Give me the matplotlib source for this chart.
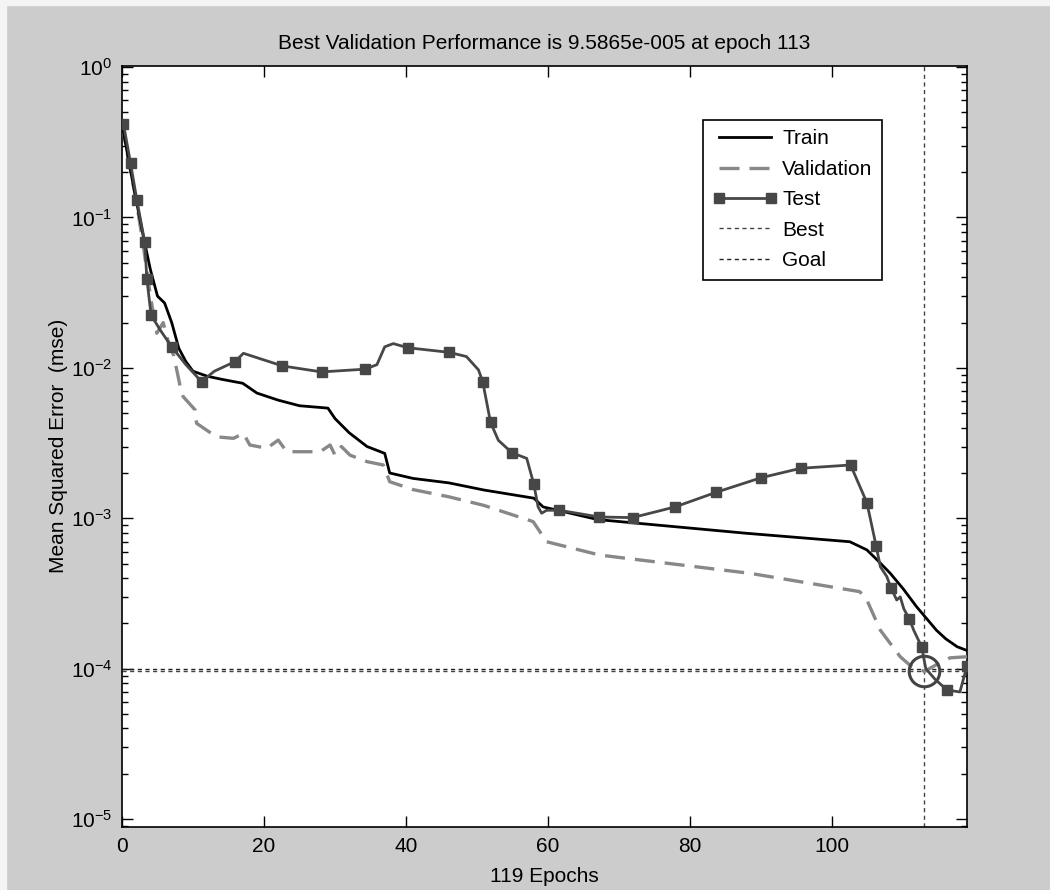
import numpy as np
import matplotlib
matplotlib.use("Agg")
import matplotlib.pyplot as plt
from matplotlib.patches import Rectangle

# performance curves (epoch, mse)
train_epochs = [0, 1, 2, 3, 4, 5, 6, 7, 8, 9, 10, 12, 14, 17, 19, 22, 25, 29, 30, 32, 34.5,
                37, 37.7, 41, 46, 51, 58, 59.3, 67, 88, 102.5, 104.9, 106.5, 108.2, 110,
                111.9, 113.5, 114.7, 116, 117.6, 119]
train_mse = [0.42, 0.23, 0.13, 0.075, 0.045, 0.03, 0.027, 0.02, 0.0135, 0.011, 0.0095,
             0.0088, 0.0084, 0.0079, 0.0068, 0.0061, 0.0056, 0.0054, 0.0046, 0.0037, 0.0030,
             0.0027, 0.0020, 0.00184, 0.00172, 0.00154, 0.00136, 0.00119, 0.00098, 0.000794,
             0.000698, 0.000616, 0.00052, 0.00043, 0.00034, 0.000258, 0.00021, 0.00018,
             0.000158, 0.00014, 0.000132]

val_epochs = [0, 1, 2, 3, 4, 4.9, 5.8, 6.5, 7.3, 8.2, 8.6, 10.3, 10.5, 13.3, 15.7, 17.1, 18,
              20.4, 22, 23.2, 27.9, 29.3, 30, 30.9, 32.1, 34.5, 36.8, 37.7, 41, 46, 50.9,
              57.9, 59.8, 67.3, 88.5, 103.9, 104.9, 106.8, 109.6, 111, 113, 114.5, 116.6, 119]
val_mse = [0.42, 0.23, 0.13, 0.065, 0.03, 0.017, 0.02, 0.015, 0.012, 0.0075, 0.00645,
           0.00525, 0.00428, 0.00348, 0.0034, 0.00367, 0.00307, 0.00292, 0.00331, 0.00277,
           0.00277, 0.00307, 0.00263, 0.0030, 0.00263, 0.00238, 0.00226, 0.00175, 0.00155,
           0.00139, 0.00122, 0.00095, 0.000698, 0.000569, 0.00043, 0.000325, 0.000286,
           0.00018, 0.00012, 0.000105, 9.5865e-5, 0.000105, 0.000118, 0.00012]

test_epochs = [0.2, 1.2, 2.1, 3.2, 3.5, 4.1, 5.4, 7.0, 9, 11.2, 13, 15.9, 17.1, 22.6, 28.1,
               34.2, 35.9, 37.0, 38.2, 40.3, 46.0, 48.5, 50.2, 50.8, 51.9, 53, 54.9, 57, 58,
               58.6, 59.1, 59.8, 61.6, 67.2, 71.9, 77.9, 83.7, 90, 95.6, 102.6, 104.9, 106.2,
               106.8, 107.7, 108.3, 109.1, 109.6, 110.1, 110.9, 111.5, 112.6, 113.2, 114.5,
               116.2, 118, 119]
test_mse = [0.42, 0.23, 0.13, 0.0686, 0.039, 0.0224, 0.0178, 0.0138, 0.0105, 0.0081, 0.0095,
            0.011, 0.0125, 0.0103, 0.0094, 0.0098, 0.0105, 0.0138, 0.0145, 0.0136, 0.0127,
            0.0119, 0.0097, 0.0081, 0.00434, 0.0033, 0.00273, 0.0025, 0.00168, 0.00119,
            0.00108, 0.00113, 0.00113, 0.00102, 0.00101, 0.00119, 0.00149, 0.00186, 0.00215,
            0.00226, 0.00127, 0.000656, 0.000476, 0.00041, 0.000345, 0.000286, 0.0003,
            0.00025, 0.000213, 0.00018, 0.00014, 0.0001, 8.5e-5, 7.2e-5, 7.0e-5, 0.000104]
test_marker_epochs = [0.2, 1.2, 2.1, 3.2, 3.5, 4.1, 7.0, 11.2, 15.9, 22.6, 28.1, 34.2, 40.3,
                      46.0, 50.8, 51.9, 54.9, 58, 61.6, 67.2, 71.9, 77.9, 83.7, 90, 95.6,
                      102.6, 104.9, 106.2, 108.3, 110.9, 112.6, 116.2, 119]

n_epochs = 119
best_epoch = 113
best_perf = 9.5865e-5
goal = 1e-4

plt.rcParams['font.family'] = ['Liberation Sans', 'DejaVu Sans']
plt.rcParams['mathtext.fontset'] = 'custom'
plt.rcParams['mathtext.rm'] = 'Liberation Sans'
plt.rcParams['mathtext.default'] = 'regular'

fs = 15
bg = '#cccccc'
fig = plt.figure(figsize=(10.5, 8.9), dpi=100, facecolor=bg)
# thin light frame at top/left of the original screenshot
fig.patches.append(Rectangle((0, 1 - 5 / 890), 1, 5 / 890, transform=fig.transFigure,
                             color='#f4f4f4', zorder=0))
fig.patches.append(Rectangle((0, 0), 6 / 1050, 1, transform=fig.transFigure,
                             color='#f4f4f4', zorder=0))

ax = fig.add_axes([122 / 1050, 1 - 827 / 890, (967 - 122) / 1050, (827 - 65.6) / 890])
ax.set_facecolor('white')

marker_idx = [test_epochs.index(e) for e in test_marker_epochs]

ax.plot(train_epochs, train_mse, color='black', lw=2.0, label='Train', zorder=4)
ax.plot(val_epochs, val_mse, color='#888888', lw=2.4, ls=(0, (6, 3)),
        label='Validation', zorder=3)
ax.plot(test_epochs, test_mse, color='#474747', lw=2.0, marker='s', markersize=7.5,
        markevery=marker_idx, label='Test', zorder=5)
ax.axvline(best_epoch, color='#444444', lw=1, ls=(0, (3, 2.5)), label='Best', zorder=2)
ax.axhline(best_perf, color='#444444', lw=1, ls=(0, (3, 2.5)), zorder=2)
ax.axhline(goal, color='#222222', lw=1, ls=(0, (3, 2.5)), label='Goal', zorder=2)
ax.plot([best_epoch], [best_perf], marker='o', markersize=22, markerfacecolor='none',
        markeredgecolor='#444444', markeredgewidth=2.2, zorder=6)

ax.set_yscale('log')
ax.set_xlim(0, n_epochs)
ax.set_ylim(10 ** -5.053, 10 ** 0.01)
ax.set_xticks([0, 20, 40, 60, 80, 100])
ax.set_yticks([1e-5, 1e-4, 1e-3, 1e-2, 1e-1, 1])
ax.tick_params(which='both', direction='in', top=True, right=True, labelsize=fs,
               colors='black', width=1)
ax.tick_params(which='major', length=8, pad=7)
ax.tick_params(which='minor', length=4)
for s in ax.spines.values():
    s.set_linewidth(1.2)

ax.set_title('Best Validation Performance is 9.5865e-005 at epoch 113', fontsize=fs, pad=12)
ax.set_xlabel('119 Epochs', fontsize=fs, labelpad=8)
ax.set_ylabel('Mean Squared Error  (mse)', fontsize=fs)
ax.yaxis.set_label_coords(-0.064, 0.5)

leg = ax.legend(loc='upper left', bbox_to_anchor=(703 / 1050, 1 - 120 / 890),
                bbox_transform=fig.transFigure, fontsize=fs, handlelength=3.1,
                labelspacing=0.55, borderpad=0.45, handletextpad=0.25, fancybox=False,
                framealpha=1, borderaxespad=0, numpoints=2)
leg.get_frame().set_edgecolor('black')
leg.get_frame().set_linewidth(1.2)

fig.savefig('out.png', dpi=100, facecolor=bg)
